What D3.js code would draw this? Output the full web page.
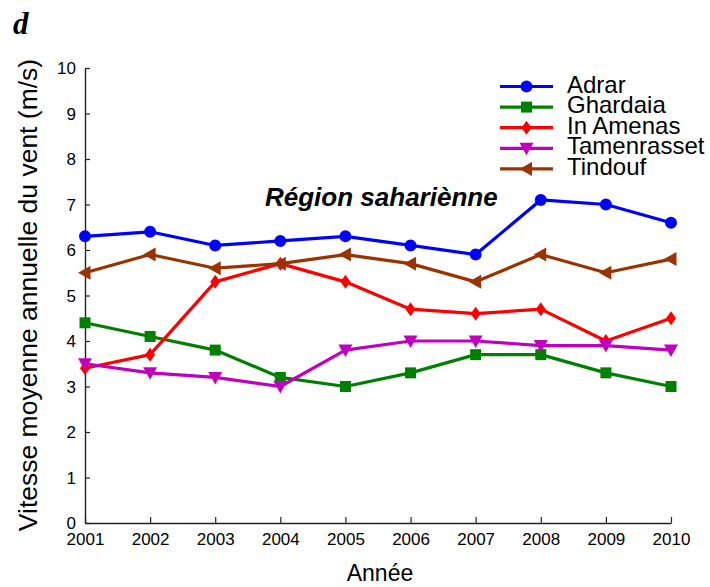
<!DOCTYPE html>
<html>
<head>
<meta charset="utf-8">
<script src="https://cdn.jsdelivr.net/npm/d3@7"></script>
<style>
  html, body { margin: 0; padding: 0; background: #fff; }
  svg { display: block; font-family: "Liberation Sans", Arial, sans-serif; }
</style>
</head>
<body>
<svg id="chart" width="710" height="587"></svg>
<script>
// Annual mean wind speed (m/s), Saharan stations, 2001–2010
const years = [2001, 2002, 2003, 2004, 2005, 2006, 2007, 2008, 2009, 2010];
const adrar       = [6.3, 6.4, 6.1, 6.2, 6.3, 6.1, 5.9, 7.1, 7.0, 6.6];
const ghardaia    = [4.4, 4.1, 3.8, 3.2, 3.0, 3.3, 3.7, 3.7, 3.3, 3.0];
const inAmenas    = [3.4, 3.7, 5.3, 5.7, 5.3, 4.7, 4.6, 4.7, 4.0, 4.5];
const tamenrasset = [3.5, 3.3, 3.2, 3.0, 3.8, 4.0, 4.0, 3.9, 3.9, 3.8];
const tindouf     = [5.5, 5.9, 5.6, 5.7, 5.9, 5.7, 5.3, 5.9, 5.5, 5.8];
const yTicks = [0, 1, 2, 3, 4, 5, 6, 7, 8, 9, 10];

const series = [
  { name: "Adrar",       values: adrar,       color: "#0000ff", marker: "circle" },
  { name: "Ghardaia",    values: ghardaia,    color: "#008000", marker: "square" },
  { name: "In Amenas",   values: inAmenas,    color: "#ff0000", marker: "diamond" },
  { name: "Tamenrasset", values: tamenrasset, color: "#bf00bf", marker: "triDown" },
  { name: "Tindouf",     values: tindouf,     color: "#993300", marker: "triLeft" }
];

const svg = d3.select("#chart");
const plot = { left: 85, right: 671, top: 68, bottom: 523 };

const x = d3.scaleLinear().domain([2001, 2010]).range([plot.left, plot.right]);
const y = d3.scaleLinear().domain([0, 10]).range([plot.bottom, plot.top]);

// marker shapes centred on the origin
function markerPath(type) {
  switch (type) {
    case "circle":  return d3.symbol(d3.symbolCircle, 113)();
    case "square":  return "M-5.5,-5.5H5.5V5.5H-5.5Z";
    case "diamond": return "M0,-7L5,0L0,7L-5,0Z";
    case "triDown": return "M-7,-5.5L7,-5.5L0,7Z";
    case "triLeft": return "M-7,0L5.5,-7L5.5,7Z";
  }
}

// axes: ticks drawn inward
const xAxis = d3.axisBottom(x).tickValues(years).tickFormat(d3.format("d"))
  .tickSizeInner(-6).tickSizeOuter(0).tickPadding(10);
const yAxis = d3.axisLeft(y).tickValues(yTicks)
  .tickSizeInner(-5).tickSizeOuter(0).tickPadding(9);

const gx = svg.append("g").attr("transform", `translate(0,${plot.bottom})`).call(xAxis);
const gy = svg.append("g").attr("transform", `translate(${plot.left},0)`).call(yAxis);

[gx, gy].forEach(g => {
  g.select(".domain").attr("stroke", "#222").attr("stroke-width", 1.4);
  g.selectAll(".tick line").attr("stroke", "#222").attr("stroke-width", 1.2);
  g.selectAll(".tick text").attr("fill", "#000")
    .style("font-family", "Liberation Sans, Arial, sans-serif").style("font-size", "17px");
});
gx.selectAll(".tick text").attr("dy", "0.71em");
gy.selectAll(".tick text").attr("dy", "0.35em");

// series lines and markers
const line = d3.line().x((d, i) => x(years[i])).y(d => y(d));

series.forEach(s => {
  const g = svg.append("g");
  g.append("path").datum(s.values)
    .attr("d", line).attr("fill", "none")
    .attr("stroke", s.color).attr("stroke-width", 3.2).attr("stroke-linejoin", "round");
  g.selectAll("path.m").data(s.values).join("path").attr("class", "m")
    .attr("d", markerPath(s.marker))
    .attr("transform", (d, i) => `translate(${x(years[i])},${y(d)})`)
    .attr("fill", s.color);
});

// legend
const legend = svg.append("g");
series.forEach((s, i) => {
  const cy = 86.5 + i * 20.6;
  legend.append("line").attr("x1", 500).attr("x2", 553).attr("y1", cy).attr("y2", cy)
    .attr("stroke", s.color).attr("stroke-width", 3.2);
  legend.append("path").attr("d", markerPath(s.marker))
    .attr("transform", `translate(526.5,${cy})`).attr("fill", s.color);
  legend.append("text").attr("x", 567).attr("y", cy + 6)
    .style("font-size", "24px").attr("fill", "#000").text(s.name);
});

// annotation
svg.append("text").attr("x", 265).attr("y", 206)
  .style("font-size", "26px").style("font-weight", "bold").style("font-style", "italic")
  .attr("fill", "#000").text("Région sahariènne");

// axis titles
svg.append("text").attr("x", (plot.left + plot.right) / 2 + 2).attr("y", 581)
  .attr("text-anchor", "middle").style("font-size", "23px").attr("fill", "#000").text("Année");

svg.append("text").attr("transform", "translate(37,295) rotate(-90)")
  .attr("text-anchor", "middle").style("font-size", "26.5px").attr("fill", "#000")
  .text("Vitesse moyenne annuelle du vent (m/s)");

// panel letter
svg.append("text").attr("x", 13).attr("y", 34)
  .style("font-family", "Liberation Serif, Times New Roman, serif")
  .style("font-size", "31px").style("font-weight", "bold").style("font-style", "italic")
  .attr("fill", "#000").text("d");
</script>
</body>
</html>
